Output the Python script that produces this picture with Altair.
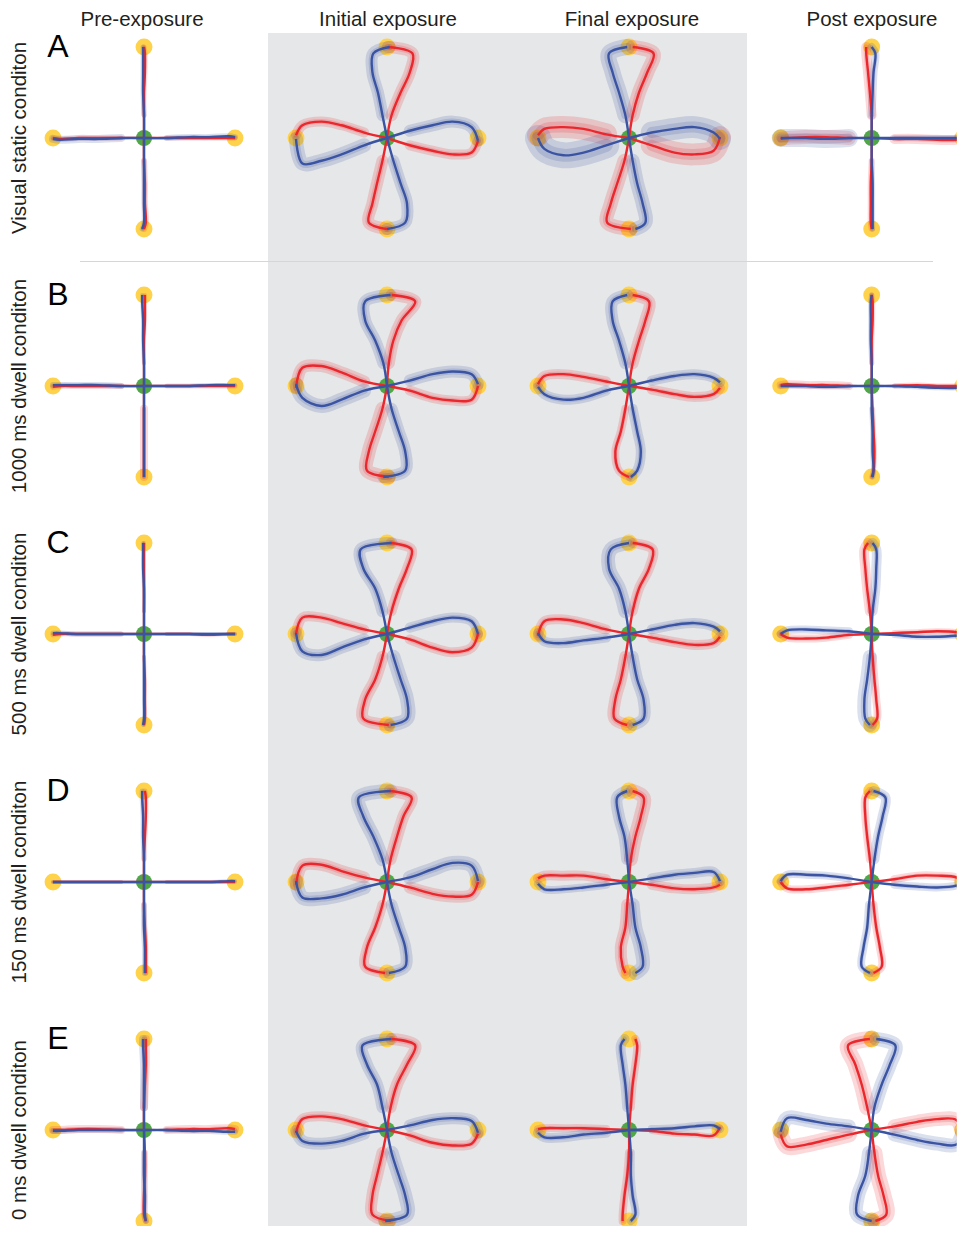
import altair as alt
import pandas as pd

# ---------------- text ----------------
ROW_LETTERS = ["A", "B", "C", "D", "E"]
ROW_LABELS = ["Visual static conditon", "1000 ms dwell conditon", "500 ms dwell conditon",
              "150 ms dwell conditon", "0 ms dwell conditon"]
COLUMN_TITLES = ["Pre-exposure", "Initial exposure", "Final exposure", "Post exposure"]

# ---------------- geometry of the task ----------------
DIRECTIONS = ["up", "right", "down", "left"]
STATIONS = [0.25, 0.5, 0.72, 0.93, 1.0]          # radial distance (target radius = 1)
TARGET_X = [0, 1, 0, -1]
TARGET_Y = [1, 0, -1, 0]

# lateral deviation (target-radius units) at each station, per direction [up, right, down, left]
# positive = counter-clockwise side of the reach direction
A_PRE_RED = [[0, 0, -0.01, -0.01, 0], [0, 0, 0, 0, 0], [0, 0.01, 0.01, 0.02, 0], [0, 0, 0, 0.01, 0]]
A_PRE_BLUE = [[0, 0.01, 0.01, 0.01, 0.01], [0, 0.01, 0.01, 0.02, 0.01], [0, 0, 0, 0, -0.02], [0, 0.01, 0.01, 0.02, 0.01]]
A_INI_RED = [[-0.05, -0.15, -0.25, -0.28, -0.01], [-0.08, -0.14, -0.18, -0.16, -0.03], [-0.05, -0.11, -0.16, -0.2, 0.0], [-0.06, -0.14, -0.18, -0.14, -0.03]]
A_INI_BLUE = [[0.05, 0.10, 0.16, 0.15, -0.03], [0.08, 0.14, 0.18, 0.12, -0.03], [0.07, 0.15, 0.22, 0.2, 0.0], [0.08, 0.18, 0.25, 0.28, 0.01]]
A_FIN_RED = [[-0.04, -0.11, -0.2, -0.27, -0.04], [-0.08, -0.16, -0.18, -0.14, 0.01], [-0.05, -0.13, -0.2, -0.24, 0.02], [-0.04, -0.1, -0.12, -0.10, -0.03]]
A_FIN_BLUE = [[0.04, 0.11, 0.18, 0.22, 0.02], [0.06, 0.10, 0.12, 0.06, -0.01], [0.04, 0.09, 0.15, 0.18, 0.07], [0.08, 0.16, 0.19, 0.12, 0.0]]
A_POST_RED = [[0.0, 0.02, 0.04, 0.06, 0.06], [-0.01, -0.01, -0.02, -0.02, 0], [0, -0.01, -0.01, -0.01, 0], [0, -0.01, -0.01, 0, 0.01]]
A_POST_BLUE = [[0, -0.01, -0.02, -0.04, 0], [0, 0, 0, 0, 0], [0, 0.01, 0.01, 0.01, 0.01], [0, 0.01, 0, 0, 0]]

B_PRE_RED = [[0, 0, -0.01, -0.01, -0.01], [0, 0, 0, 0, 0], [0, 0, 0, 0, 0], [0, 0, 0, 0, 0.01]]
B_PRE_BLUE = [[0, 0.01, 0.01, 0.02, 0.02], [0, 0, 0.01, 0.01, 0.01], [0, 0, 0, 0, 0], [0, -0.01, -0.01, -0.01, -0.01]]
B_INI_RED = [[-0.02, -0.07, -0.16, -0.31, -0.05], [-0.05, -0.13, -0.16, -0.15, 0], [-0.05, -0.13, -0.2, -0.22, 0.02], [-0.05, -0.15, -0.22, -0.2, 0.02]]
B_INI_BLUE = [[0.04, 0.13, 0.24, 0.24, -0.04], [0.06, 0.13, 0.16, 0.13, 0.02], [0.05, 0.13, 0.2, 0.2, -0.04], [0.05, 0.15, 0.22, 0.13, -0.02]]
B_FIN_RED = [[-0.04, -0.11, -0.18, -0.22, -0.04], [-0.04, -0.09, -0.12, -0.09, -0.02], [-0.04, -0.09, -0.15, -0.11, 0], [-0.05, -0.1, -0.13, -0.11, -0.02]]
B_FIN_BLUE = [[0.04, 0.11, 0.18, 0.18, 0.02], [0.06, 0.11, 0.13, 0.09, 0.04], [0.04, 0.09, 0.13, 0.09, 0.02], [0.05, 0.13, 0.15, 0.09, 0.01]]
B_POST_RED = [[0, 0, -0.01, -0.01, 0], [0, 0.01, 0, 0, 0], [0.01, 0.02, 0.03, 0.02, 0], [0, -0.01, -0.01, -0.02, -0.01]]
B_POST_BLUE = [[0, 0.01, 0.01, 0.01, 0], [0, -0.01, -0.02, -0.02, -0.01], [0, 0.01, 0.01, 0.02, 0.01], [0, 0.01, 0, 0, 0]]

C_PRE_RED = [[0, 0, 0, 0, 0], [0, 0, -0.01, 0, 0], [0, 0.01, 0.01, 0.01, 0], [0, 0, 0, 0, 0.01]]
C_PRE_BLUE = [[0, 0, 0.01, 0.01, 0.01], [0, 0, 0, 0, 0], [0, 0, 0, 0, -0.01], [0, 0, 0, -0.01, -0.01]]
C_INI_RED = [[-0.05, -0.13, -0.22, -0.27, -0.04], [-0.06, -0.15, -0.2, -0.15, 0], [-0.05, -0.13, -0.24, -0.26, 0.02], [-0.05, -0.12, -0.18, -0.18, 0]]
C_INI_BLUE = [[0.05, 0.13, 0.26, 0.29, -0.05], [0.07, 0.14, 0.18, 0.14, 0], [0.07, 0.15, 0.22, 0.22, 0.04], [0.06, 0.15, 0.23, 0.19, -0.01]]
C_FIN_RED = [[-0.04, -0.11, -0.22, -0.26, -0.04], [-0.04, -0.09, -0.12, -0.1, -0.03], [-0.04, -0.09, -0.15, -0.16, -0.02], [-0.05, -0.12, -0.16, -0.14, 0.02]]
C_FIN_BLUE = [[0.04, 0.11, 0.22, 0.2, 0], [0.05, 0.1, 0.12, 0.08, 0.03], [0.04, 0.09, 0.16, 0.16, 0.04], [0.04, 0.07, 0.1, 0.08, -0.01]]
C_POST_RED = [[0.02, 0.05, 0.07, 0.08, 0.04], [0.01, 0.02, 0.03, 0.02, 0], [0.01, 0.03, 0.05, 0.06, 0.01], [0.01, 0.04, 0.05, 0.04, 0]]
C_POST_BLUE = [[-0.01, -0.04, -0.05, -0.05, -0.01], [-0.01, -0.03, -0.03, -0.02, -0.02], [-0.02, -0.05, -0.08, -0.07, -0.02], [-0.03, -0.04, -0.05, -0.04, 0]]

D_PRE_RED = [[0, -0.01, -0.02, -0.02, -0.01], [0, 0, 0, 0, 0], [0, 0.01, 0.02, 0.02, 0.02], [0, 0, 0, 0, 0]]
D_PRE_BLUE = [[0, 0.01, 0.01, 0.02, 0.02], [0, 0, 0, 0.01, 0.01], [0, 0, 0.01, 0.01, 0.01], [0, 0, 0, 0, 0]]
D_INI_RED = [[-0.04, -0.11, -0.18, -0.27, -0.03], [-0.06, -0.13, -0.16, -0.14, 0], [-0.05, -0.13, -0.22, -0.24, -0.02], [-0.05, -0.12, -0.19, -0.18, 0.03]]
D_INI_BLUE = [[0.05, 0.15, 0.26, 0.31, -0.04], [0.05, 0.14, 0.21, 0.18, 0.01], [0.05, 0.13, 0.2, 0.2, 0.02], [0.06, 0.14, 0.18, 0.17, -0.01]]
D_FIN_RED = [[-0.02, -0.07, -0.13, -0.16, -0.04], [-0.03, -0.07, -0.08, -0.06, -0.03], [-0.02, -0.04, -0.09, -0.07, -0.04], [-0.03, -0.07, -0.07, -0.07, -0.04]]
D_FIN_BLUE = [[0.02, 0.05, 0.11, 0.13, 0.02], [0.04, 0.08, 0.1, 0.11, 0.01], [0.04, 0.07, 0.13, 0.15, 0.07], [0.03, 0.06, 0.08, 0.08, 0.02]]
D_POST_RED = [[0.02, 0.05, 0.07, 0.07, 0.02], [0.03, 0.07, 0.07, 0.05, 0], [0.02, 0.05, 0.09, 0.11, 0.02], [0.03, 0.06, 0.08, 0.07, 0]]
D_POST_BLUE = [[-0.03, -0.07, -0.12, -0.15, -0.02], [-0.03, -0.05, -0.06, -0.04, -0.01], [-0.03, -0.05, -0.09, -0.11, -0.02], [-0.04, -0.07, -0.08, -0.08, -0.01]]

E_PRE_RED = [[0, -0.01, -0.02, -0.02, -0.02], [0, 0.01, 0.01, 0.02, 0.01], [0.01, 0.01, 0, 0, 0.02], [0, -0.01, -0.01, 0, 0]]
E_PRE_BLUE = [[0, 0, 0, 0.01, 0.01], [0, -0.01, -0.01, -0.02, -0.02], [0, 0, 0.01, 0.01, 0.02], [0, 0, 0, 0.01, 0.01]]
E_INI_RED = [[-0.04, -0.11, -0.22, -0.31, -0.05], [-0.06, -0.14, -0.17, -0.15, -0.04], [-0.05, -0.11, -0.16, -0.16, 0.04], [-0.05, -0.12, -0.15, -0.12, 0.03]]
E_INI_BLUE = [[0.05, 0.11, 0.22, 0.27, -0.05], [0.05, 0.11, 0.13, 0.1, -0.03], [0.05, 0.13, 0.2, 0.22, -0.02], [0.04, 0.12, 0.15, 0.12, 0.01]]
E_FIN_RED = [[-0.02, -0.04, -0.07, -0.09, -0.07], [-0.01, -0.04, -0.05, -0.06, 0.03], [0, -0.02, -0.05, -0.07, -0.07], [-0.01, -0.02, -0.02, -0.02, -0.01]]
E_FIN_BLUE = [[0.02, 0.04, 0.07, 0.09, 0.05], [0.01, 0.02, 0.04, 0.05, 0.01], [0.02, 0.02, 0.04, 0.07, 0.02], [0.03, 0.05, 0.08, 0.08, 0.03]]
E_POST_RED = [[0.05, 0.11, 0.18, 0.26, 0.02], [0.04, 0.09, 0.12, 0.11, -0.05], [0.03, 0.07, 0.13, 0.16, 0.04], [0.05, 0.11, 0.16, 0.18, 0.05]]
E_POST_BLUE = [[-0.03, -0.11, -0.2, -0.26, -0.05], [-0.05, -0.11, -0.15, -0.16, -0.02], [-0.03, -0.07, -0.15, -0.16, 0], [-0.04, -0.07, -0.11, -0.13, 0.02]]

# spread-band widths (px) per direction [up, right, down, left]: (red, blue) for each column
A_BANDS = [([5, 5, 6, 5], [5, 6, 5, 8]), ([12, 10, 12, 10], [12, 12, 12, 14]),
           ([14, 22, 14, 22], [16, 22, 14, 26]), ([10, 10, 6, 14], [8, 6, 5, 18])]
B_BANDS = [([4, 5, 8, 6], [4, 4, 4, 6]), ([12, 10, 14, 12], [12, 12, 12, 14]),
           ([12, 10, 8, 10], [12, 10, 10, 10]), ([5, 5, 5, 8], [5, 5, 5, 5])]
C_BANDS = [([4, 4, 4, 5], [4, 4, 4, 5]), ([10, 10, 12, 10], [12, 10, 14, 12]),
           ([10, 10, 12, 10], [14, 10, 12, 10]), ([10, 6, 8, 8], [10, 6, 14, 8])]
D_BANDS = [([5, 4, 5, 4], [5, 4, 6, 4]), ([12, 12, 10, 12], [14, 14, 12, 14]),
           ([14, 10, 12, 10], [12, 10, 14, 8]), ([8, 8, 8, 8], [10, 8, 8, 8])]
E_BANDS = [([8, 8, 6, 8], [8, 6, 6, 6]), ([12, 10, 12, 10], [12, 12, 14, 12]),
           ([8, 6, 8, 8], [10, 8, 8, 10]), ([16, 14, 16, 16], [14, 14, 14, 14])]

PANEL_CURVES = [
    [(A_PRE_RED, A_PRE_BLUE), (A_INI_RED, A_INI_BLUE), (A_FIN_RED, A_FIN_BLUE), (A_POST_RED, A_POST_BLUE)],
    [(B_PRE_RED, B_PRE_BLUE), (B_INI_RED, B_INI_BLUE), (B_FIN_RED, B_FIN_BLUE), (B_POST_RED, B_POST_BLUE)],
    [(C_PRE_RED, C_PRE_BLUE), (C_INI_RED, C_INI_BLUE), (C_FIN_RED, C_FIN_BLUE), (C_POST_RED, C_POST_BLUE)],
    [(D_PRE_RED, D_PRE_BLUE), (D_INI_RED, D_INI_BLUE), (D_FIN_RED, D_FIN_BLUE), (D_POST_RED, D_POST_BLUE)],
    [(E_PRE_RED, E_PRE_BLUE), (E_INI_RED, E_INI_BLUE), (E_FIN_RED, E_FIN_BLUE), (E_POST_RED, E_POST_BLUE)],
]
PANEL_BANDS = [A_BANDS, B_BANDS, C_BANDS, D_BANDS, E_BANDS]

# ---------------- style / layout ----------------
RED = "#ea272c"
BLUE = "#3a53a3"
YELLOW = "#fed24b"
GREEN = "#4fa748"
GREY_BG = "#e6e7e8"
TEXT = "#231f20"
FONT = "Liberation Sans"
PX = 91.0  # pixels per target radius
HEADER = 25  # px above row A reserved for column headers
COL_EXTENTS = [(136, 124), (119, 121), (121, 118), (124.7, 85)]   # (left, right) px
ROW_EXTENTS = [(105 + HEADER, 124), (124, 124), (124, 124), (124, 124), (124, 96)]  # (top, bottom) px
HEADER_X = [134, 120, 124, 125]

RADIAL = {"up": (0, 1), "right": (1, 0), "down": (0, -1), "left": (-1, 0)}
PERP = {"up": (-1, 0), "right": (0, 1), "down": (1, 0), "left": (0, -1)}

records = []
for ri in range(5):
    for ci in range(4):
        red, blue = PANEL_CURVES[ri][ci]
        bred, bblue = PANEL_BANDS[ri][ci]
        for cname, offs, bws in (("red", red, bred), ("blue", blue, bblue)):
            for d, dname in enumerate(DIRECTIONS):
                rx, ry = RADIAL[dname]
                px, py = PERP[dname]
                pts = [(0.0, 0.0)] + [(s * rx + o * px, s * ry + o * py) for s, o in zip(STATIONS, offs[d])]
                for i, (x, y) in enumerate(pts):
                    records.append(dict(row=ri, col=ci, c=cname, curve=f"{cname}-{dname}",
                                        i=i, x=x, y=y, bw=bws[d]))
df = pd.DataFrame(records)
targets_df = pd.DataFrame({"x": TARGET_X, "y": TARGET_Y})
center_df = pd.DataFrame({"x": [0], "y": [0]})
one_df = pd.DataFrame({"a": [0]})

cscale = alt.Scale(domain=["red", "blue"], range=[RED, BLUE])


def panel(ri, ci):
    left, right = COL_EXTENTS[ci]
    top, bottom = ROW_EXTENTS[ri]
    w = left + right
    h = top + bottom
    xs = alt.Scale(domain=[-left / PX, right / PX], nice=False, zero=False)
    ys = alt.Scale(domain=[-bottom / PX, top / PX], nice=False, zero=False)
    X = alt.X("x:Q", scale=xs, axis=None)
    Y = alt.Y("y:Q", scale=ys, axis=None)
    sub = df[(df.row == ri) & (df.col == ci)]
    curves = alt.Chart(sub)
    enc = dict(x=X, y=Y, detail="curve:N", order="i:Q",
               color=alt.Color("c:N", scale=cscale, legend=None))
    bands = curves.transform_filter("datum.i > 0")
    band_outer = bands.mark_line(interpolate="catmull-rom", opacity=0.18, clip=True,
                                 strokeCap="round", strokeJoin="round").encode(
        size=alt.Size("bw:Q", scale=None, legend=None), **enc)
    band_inner = bands.transform_calculate(bw2="datum.bw * 0.5").mark_line(
        interpolate="catmull-rom", opacity=0.18, clip=True, strokeCap="round", strokeJoin="round").encode(
        size=alt.Size("bw2:Q", scale=None, legend=None), **enc)
    lines = curves.mark_line(interpolate="catmull-rom", strokeWidth=2.4, clip=True).encode(**enc)
    targets = alt.Chart(targets_df).mark_circle(size=285, color=YELLOW, opacity=1, clip=True).encode(x=X, y=Y)
    center = alt.Chart(center_df).mark_circle(size=260, color=GREEN, opacity=1).encode(x=X, y=Y)
    layers = []
    if ci in (1, 2):
        layers.append(alt.Chart(one_df).mark_rect(color=GREY_BG).encode(
            x=alt.value(0), x2=alt.value(w), y=alt.value(HEADER if ri == 0 else 0), y2=alt.value(h)))
    layers += [targets, band_outer, band_inner, center, lines]
    if ci == 0:
        lab = alt.Chart(pd.DataFrame({"t": [ROW_LABELS[ri]], "y": [0]})).mark_text(
            angle=270, fontSize=20.5, font=FONT, color=TEXT, align="center", baseline="middle").encode(
            x=alt.value(12), y=Y, text="t:N")
        let = alt.Chart(pd.DataFrame({"t": [ROW_LETTERS[ri]], "y": [1.0]})).mark_text(
            fontSize=32, font=FONT, color="#000000", align="center", baseline="middle").encode(
            x=alt.value(50), y=Y, text="t:N")
        layers += [lab, let]
    if ri == 0:
        x0 = 72 if ci == 0 else 0
        x1 = 186 if ci == 3 else w
        sep = alt.Chart(one_df).mark_rect(color="#d6d6d6").encode(
            x=alt.value(x0), x2=alt.value(x1), y=alt.value(h - 1), y2=alt.value(h))
        head = alt.Chart(pd.DataFrame({"t": [COLUMN_TITLES[ci]]})).mark_text(
            fontSize=20.5, font=FONT, color=TEXT, align="center", baseline="middle").encode(
            x=alt.value(HEADER_X[ci]), y=alt.value(11.5), text="t:N")
        layers += [sep, head]
    return alt.layer(*layers).properties(width=w, height=h)


rows = []
for ri in range(5):
    rows.append(alt.hconcat(*[panel(ri, ci) for ci in range(4)], spacing=0)
                .resolve_scale(x="independent", y="independent"))

chart = (alt.vconcat(*rows, spacing=0)
         .resolve_scale(x="independent", y="independent")
         .properties(padding=0)
         .configure_view(strokeWidth=0)
         .configure_concat(spacing=0))

chart.save("out.html", embed_options={"renderer": "svg", "actions": False})
